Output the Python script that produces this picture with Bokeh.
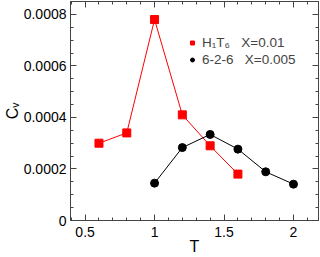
import numpy as np
from bokeh.plotting import figure
from bokeh.models import (LinearAxis, FixedTicker, Range1d, Legend, LegendItem,
                          CustomJSTickFormatter)
from bokeh.embed import file_html
from bokeh.resources import INLINE

# data
t_h1t6 = [0.6, 0.8, 1.0, 1.2, 1.4, 1.6]
cv_h1t6 = [0.00030, 0.00034, 0.00078, 0.00041, 0.00029, 0.00018]
t_626 = [1.0, 1.2, 1.4, 1.6, 1.8, 2.0]
cv_626 = [0.000145, 0.000283, 0.000334, 0.000277, 0.000189, 0.000141]
x_ticks = [0.5, 1.0, 1.5, 2.0]
x_tick_labels = ["0.5", "1", "1.5", "2"]
y_ticks = [0.0, 0.0002, 0.0004, 0.0006, 0.0008]
y_tick_labels = ["0", "0.0002", "0.0004", "0.0006", "0.0008"]
label_h1t6 = "H\u2081T\u2086   X=0.01"
label_626 = "6-2-6   X=0.005"
x_title = "T"
y_title = "C\u1d65"

FONT = "Liberation Sans"
AX = "#444444"

p = figure(width=320, height=257, output_backend="svg", toolbar_location=None,
           x_range=Range1d(0.395, 2.18), y_range=Range1d(0, 0.00085),
           min_border_left=59, min_border_right=2, min_border_top=1,
           min_border_bottom=36, background_fill_color="white",
           border_fill_color="white")
p.grid.visible = False
p.outline_line_color = AX
p.outline_line_width = 1

x_minor = [round(v, 2) for v in np.arange(0.4, 2.21, 0.1)]
y_minor = [round(v, 6) for v in np.arange(0, 0.00086, 0.00005)]
xt = FixedTicker(ticks=x_ticks, minor_ticks=x_minor)
yt = FixedTicker(ticks=y_ticks, minor_ticks=y_minor)

def style(ax, size="14px"):
    ax.axis_line_color = AX
    ax.major_tick_line_color = AX
    ax.minor_tick_line_color = AX
    ax.major_tick_in = 6
    ax.major_tick_out = 0
    ax.minor_tick_in = 3
    ax.minor_tick_out = 0
    ax.major_label_text_font = FONT
    ax.major_label_text_font_size = size
    ax.major_label_text_color = "black"
    ax.axis_label_text_font = FONT
    ax.axis_label_text_font_size = "16px"
    ax.axis_label_text_font_style = "normal"
    ax.axis_label_text_color = "black"

xa = p.xaxis[0]
xa.ticker = xt
xa.major_label_overrides = {float(k): v for k, v in zip(x_ticks, x_tick_labels)}
xa.axis_label = x_title
style(xa)
xa.major_label_standoff = 6
xa.axis_label_standoff = -2

ya = p.yaxis[0]
ya.ticker = yt
ya.major_label_overrides = {float(k): v for k, v in zip(y_ticks, y_tick_labels)}
ya.axis_label = y_title
style(ya)
ya.major_label_standoff = 4
ya.axis_label_standoff = 0

blank = CustomJSTickFormatter(code="return ''")
top = LinearAxis(ticker=FixedTicker(ticks=x_ticks, minor_ticks=x_minor),
                 formatter=blank, major_label_standoff=0)
style(top, "1px")
p.add_layout(top, "above")
right = LinearAxis(ticker=FixedTicker(ticks=y_ticks, minor_ticks=y_minor),
                   formatter=blank, major_label_standoff=0)
style(right, "1px")
p.add_layout(right, "right")

p.line(t_h1t6, cv_h1t6, line_color="#ff0000", line_width=1)
r1 = p.scatter(t_h1t6, cv_h1t6, marker="square", size=8, fill_color="#ff0000",
               line_color="#ff0000")
p.line(t_626, cv_626, line_color="black", line_width=1)
r2 = p.scatter(t_626, cv_626, marker="circle", size=8, fill_color="black",
               line_color="black")

legend = Legend(items=[LegendItem(label=label_h1t6, renderers=[r1]),
                       LegendItem(label=label_626, renderers=[r2])],
                location=(117, 152), padding=0, spacing=0, margin=0,
                glyph_width=10, glyph_height=17, label_standoff=5,
                label_text_font=FONT, label_text_font_size="13.5px",
                label_height=17, border_line_color=None,
                background_fill_alpha=0)
p.add_layout(legend, "center")

open("out.html", "w").write(file_html(p, INLINE))
